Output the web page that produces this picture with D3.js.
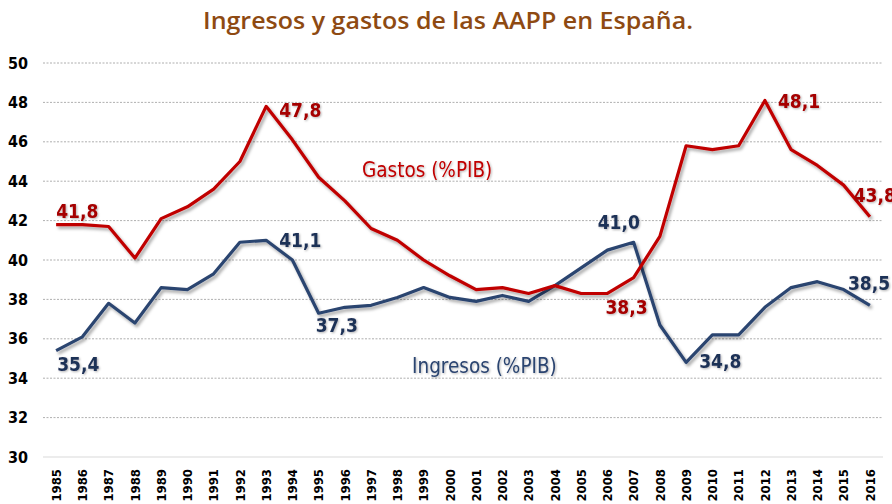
<!DOCTYPE html>
<html>
<head>
<meta charset="utf-8">
<script src="https://cdn.jsdelivr.net/npm/d3@7"></script>
<style>
  body { margin: 0; background: #fff; }
  svg { display: block; }
</style>
</head>
<body>
<svg id="chart"></svg>
<script>
/* ---------- data ---------- */

var years = d3.range(1985, 2017);

var gastos = [41.8, 41.8, 41.7, 40.1, 42.1, 42.7, 43.6, 45.0, 47.8, 46.1, 44.2, 43.0, 41.6, 41.0, 40.0, 39.2,
              38.5, 38.6, 38.3, 38.7, 38.3, 38.3, 39.1, 41.2, 45.8, 45.6, 45.8, 48.1, 45.6, 44.8, 43.8, 42.2];

var ingresos = [35.4, 36.1, 37.8, 36.8, 38.6, 38.5, 39.3, 40.9, 41.0, 40.0, 37.3, 37.6, 37.7, 38.1, 38.6, 38.1,
                37.9, 38.2, 37.9, 38.7, 39.6, 40.5, 40.9, 36.7, 34.8, 36.2, 36.2, 37.6, 38.6, 38.9, 38.5, 37.7];

var yTicks = [30, 32, 34, 36, 38, 40, 42, 44, 46, 48, 50];

// etiquetas de valores: [año, texto]
var gastosLabels = [[1985, "41,8"], [1993, "47,8"], [2012, "48,1"], [2015, "43,8"], [2006, "38,3"]];
var ingresosLabels = [[1985, "35,4"], [1993, "41,1"], [1995, "37,3"], [2007, "41,0"], [2009, "34,8"], [2016, "38,5"]];

var titleText = "Ingresos y gastos de las AAPP en España.";
var gastosName = "Gastos (%PIB)",
    ingresosName = "Ingresos (%PIB)";

/* ---------- size & colours ---------- */

var WIDTH = 892, HEIGHT = 504;
var margin = {left: 43, right: 9, top: 63, bottom: 47};

var gastosColor = "#c00000",
    gastosLabelColor = "#a50000",
    ingresosColor = "#2c4470",
    ingresosLabelColor = "#1f3057",
    titleColor = "#8e4a12",
    gridColor = "#9a9a9a";

var condensed = "'DejaVu Sans Condensed', 'DejaVu Sans', sans-serif";

// desplazamientos de las etiquetas
var gastosOffsets = [[0, -7], [13, 11], [13, 8], [10, 17], [-2, 21]];
var ingresosOffsets = [[1, 20], [13, 7], [-3, 19], [-36, -13], [13, 6], [-22, -15]];

/* ---------- svg ---------- */

var svg = d3.select("#chart")
    .attr("width", WIDTH)
    .attr("height", HEIGHT);

var defs = svg.append("defs");
var shadow = defs.append("filter")
    .attr("id", "shadow")
    .attr("x", "-10%").attr("y", "-10%")
    .attr("width", "120%").attr("height", "130%");
shadow.append("feDropShadow")
    .attr("dx", 2).attr("dy", 2.5)
    .attr("stdDeviation", 1.4)
    .attr("flood-color", "#000")
    .attr("flood-opacity", 0.35);

var textShadow = defs.append("filter").attr("id", "tshadow");
textShadow.append("feDropShadow")
    .attr("dx", 1).attr("dy", 1)
    .attr("stdDeviation", 0.8)
    .attr("flood-color", "#000")
    .attr("flood-opacity", 0.3);

var x = d3.scaleBand()
    .domain(years)
    .range([margin.left, WIDTH - margin.right]);

var y = d3.scaleLinear()
    .domain([30, 50])
    .range([HEIGHT - margin.bottom, margin.top]);

function cx(yr) { return x(yr) + x.bandwidth() / 2; }

/* ---------- title ---------- */

svg.append("text")
    .attr("x", 448)
    .attr("y", 29)
    .attr("text-anchor", "middle")
    .attr("font-family", "'Open Sans', sans-serif")
    .attr("font-weight", 600)
    .attr("font-size", 24)
    .attr("fill", titleColor)
    .attr("textLength", 490)
    .attr("lengthAdjust", "spacingAndGlyphs")
    .text(titleText);

/* ---------- grid ---------- */

svg.append("g")
    .selectAll("line")
    .data(yTicks.filter(function(d) { return d > 30; }))
    .enter().append("line")
    .attr("x1", margin.left).attr("x2", WIDTH - margin.right)
    .attr("y1", function(d) { return y(d); })
    .attr("y2", function(d) { return y(d); })
    .attr("stroke", gridColor)
    .attr("stroke-width", 0.8)
    .attr("stroke-dasharray", "2,1.5");

svg.append("line")
    .attr("x1", margin.left).attr("x2", WIDTH - margin.right)
    .attr("y1", y(30)).attr("y2", y(30))
    .attr("stroke", "#d9d9d9")
    .attr("stroke-width", 1);

/* ---------- axes ---------- */

var yAxis = svg.append("g")
    .attr("transform", "translate(" + (margin.left - 15) + ",0)")
    .call(d3.axisLeft(y).tickValues(yTicks).tickSize(0).tickPadding(0));
yAxis.select(".domain").remove();
yAxis.selectAll("text")
    .attr("font-family", condensed)
    .attr("font-weight", "bold")
    .attr("font-size", 16)
    .attr("fill", "#000");

var xAxis = svg.append("g")
    .attr("transform", "translate(0," + (y(30) + 12) + ")")
    .call(d3.axisBottom(x).tickSize(0).tickPadding(0));
xAxis.select(".domain").remove();
xAxis.selectAll("text")
    .attr("font-family", condensed)
    .attr("font-weight", "bold")
    .attr("font-size", 13)
    .attr("fill", "#000")
    .attr("text-anchor", "end")
    .attr("transform", "rotate(-90)")
    .attr("x", 0)
    .attr("y", 0)
    .attr("dy", "0.36em");

/* ---------- lines ---------- */

var line = d3.line()
    .x(function(d, i) { return cx(years[i]); })
    .y(function(d) { return y(d); });

svg.append("path")
    .datum(ingresos)
    .attr("d", line)
    .attr("fill", "none")
    .attr("stroke", ingresosColor)
    .attr("stroke-width", 3.2)
    .attr("stroke-linejoin", "round")
    .attr("filter", "url(#shadow)");

svg.append("path")
    .datum(gastos)
    .attr("d", line)
    .attr("fill", "none")
    .attr("stroke", gastosColor)
    .attr("stroke-width", 3.2)
    .attr("stroke-linejoin", "round")
    .attr("filter", "url(#shadow)");

/* ---------- value labels ---------- */

function addLabels(labels, offsets, values, color) {
    svg.append("g")
        .selectAll("text")
        .data(labels)
        .enter().append("text")
        .attr("x", function(d, i) { return cx(d[0]) + offsets[i][0]; })
        .attr("y", function(d, i) { return y(values[years.indexOf(d[0])]) + offsets[i][1]; })
        .attr("font-family", condensed)
        .attr("font-weight", "bold")
        .attr("font-size", 19)
        .attr("fill", color)
        .attr("filter", "url(#tshadow)")
        .text(function(d) { return d[1]; });
}

addLabels(gastosLabels, gastosOffsets, gastos, gastosLabelColor);
addLabels(ingresosLabels, ingresosOffsets, ingresos, ingresosLabelColor);

/* ---------- series names ---------- */

svg.append("text")
    .attr("x", 362).attr("y", 177)
    .attr("font-family", condensed)
    .attr("font-size", 20.5)
    .attr("fill", gastosColor)
    .attr("filter", "url(#tshadow)")
    .text(gastosName);

svg.append("text")
    .attr("x", 412).attr("y", 373)
    .attr("font-family", condensed)
    .attr("font-size", 20.5)
    .attr("fill", ingresosColor)
    .attr("filter", "url(#tshadow)")
    .text(ingresosName);
</script>
</body>
</html>
